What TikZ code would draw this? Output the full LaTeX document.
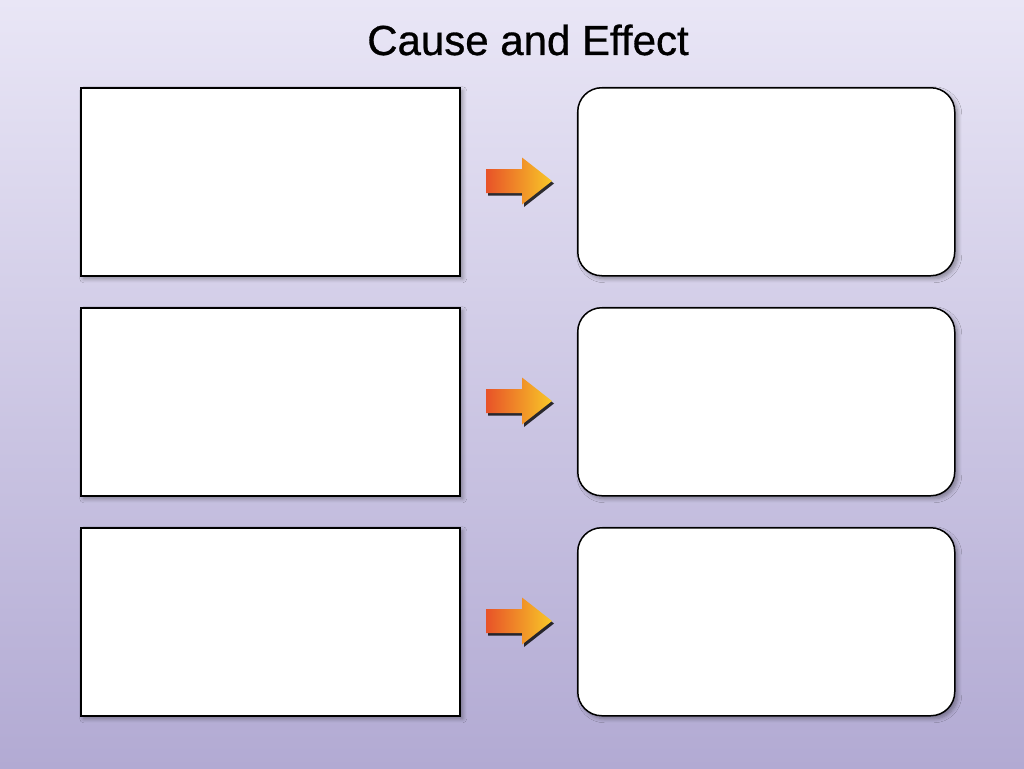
\documentclass[tikz,border=0pt]{standalone}
\usepackage{fontspec}
\setmainfont{Liberation Sans}
\newfontfamily\titlefont[FakeBold=0.7]{Liberation Sans}
\usetikzlibrary{shadows.blur}
\definecolor{bgtop}{RGB}{233,230,246}
\definecolor{bgbot}{RGB}{178,170,211}
\definecolor{arrL}{RGB}{232,82,40}
\definecolor{arrR}{RGB}{248,200,40}
\tikzset{
  causebox/.style={draw=black, line width=1.5pt, fill=white, minimum width=379pt, minimum height=188pt, inner sep=0pt,
    blur shadow={shadow xshift=3pt, shadow yshift=-3pt, shadow blur steps=6, shadow blur radius=4pt, shadow opacity=35}},
  effectbox/.style={causebox, minimum width=377pt, rounded corners=24pt},
  title/.style={font=\titlefont\fontsize{42pt}{48pt}\selectfont, text=black, inner sep=0pt}
}
\newcommand{\cearrow}[1]{%
  \fill[black, opacity=0.8] ([xshift=2pt,yshift=-2.5pt]#1) ++(-36pt,-12pt) -- ++(36pt,0) -- ++(0,-11.5pt) -- ++(30pt,23.5pt) -- ++(-30pt,23.5pt) -- ++(0,-11.5pt) -- ++(-36pt,0) -- cycle;
  \shade[left color=arrL, right color=arrR] (#1) ++(-36pt,-12pt) -- ++(36pt,0) -- ++(0,-11.5pt) -- ++(30pt,23.5pt) -- ++(-30pt,23.5pt) -- ++(0,-11.5pt) -- ++(-36pt,0) -- cycle;
}
\begin{document}
\begin{tikzpicture}[x=1pt,y=-1pt]
\shade[top color=bgtop, bottom color=bgbot] (0,0) rectangle (1024,768);
\useasboundingbox (0,0) rectangle (1024,768);
\node[title, anchor=base] (title) at (528,55) {Cause and Effect};
\node[causebox, anchor=north west] (c1) at (80,87) {};
\node[causebox, anchor=north west] (c2) at (80,307) {};
\node[causebox, anchor=north west] (c3) at (80,527) {};
\node[effectbox, anchor=north west] (e1) at (577,87) {};
\node[effectbox, anchor=north west] (e2) at (577,307) {};
\node[effectbox, anchor=north west] (e3) at (577,527) {};
\coordinate (a1) at (522,181);
\coordinate (a2) at (522,401);
\coordinate (a3) at (522,621);
\cearrow{a1}
\cearrow{a2}
\cearrow{a3}
\end{tikzpicture}
\end{document}
